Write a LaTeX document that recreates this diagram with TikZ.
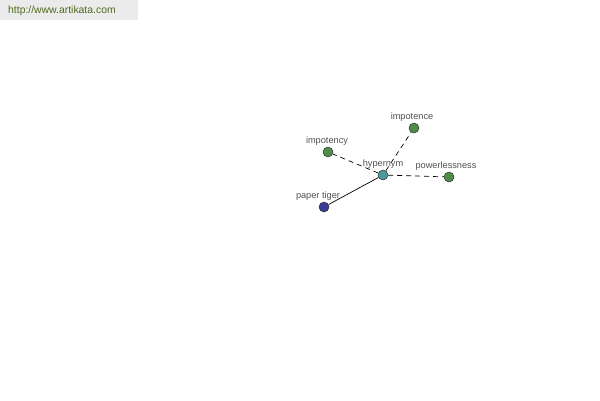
\documentclass[tikz,border=0pt]{standalone}
\usepackage{fontspec}
\setmainfont{Liberation Sans}
\definecolor{hdrbg}{HTML}{EBEBEB}
\definecolor{hdrtxt}{HTML}{4E6B1E}
\definecolor{leafgreen}{HTML}{4E8C4A}
\definecolor{hubteal}{HTML}{4A9A9C}
\definecolor{tigerblue}{HTML}{3C3C96}
\definecolor{lbl}{HTML}{505050}
\begin{document}
\begin{tikzpicture}[x=1pt,y=-1pt,
  dot/.style={circle,draw=black!80,line width=0.5pt,minimum size=10pt,inner sep=0pt},
  lab/.style={font=\fontsize{9.2}{10}\selectfont,text=lbl,inner sep=0pt},
  rel/.style={line width=0.7pt,dash pattern=on 5pt off 4pt},
  hyp/.style={line width=0.7pt}]
\useasboundingbox (0,0) rectangle (600,400);
\fill[hdrbg] (0,0) rectangle (138,20);
\node[anchor=west,text=hdrtxt,font=\fontsize{10.4}{11}\selectfont,inner sep=0pt] (url) at (8,11) {http://www.artikata.com};
\node[dot,fill=hubteal] (hub) at (383,175) {};
\node[dot,fill=leafgreen] (ince) at (414,128) {};
\node[dot,fill=leafgreen] (incy) at (328,152) {};
\node[dot,fill=leafgreen] (pow) at (449,177) {};
\node[dot,fill=tigerblue] (tig) at (324,207) {};
\draw[rel] (hub) -- (ince);
\draw[rel] (hub) -- (incy);
\draw[rel] (hub) -- (pow);
\draw[hyp] (hub) -- (tig);
\node[lab] (lhub) at (383,164) {hypernym};
\node[lab] (lince) at (412,117) {impotence};
\node[lab] (lincy) at (327,141) {impotency};
\node[lab] (lpow) at (446,166) {powerlessness};
\node[lab] (ltig) at (318,196) {paper tiger};
\end{tikzpicture}
\end{document}
